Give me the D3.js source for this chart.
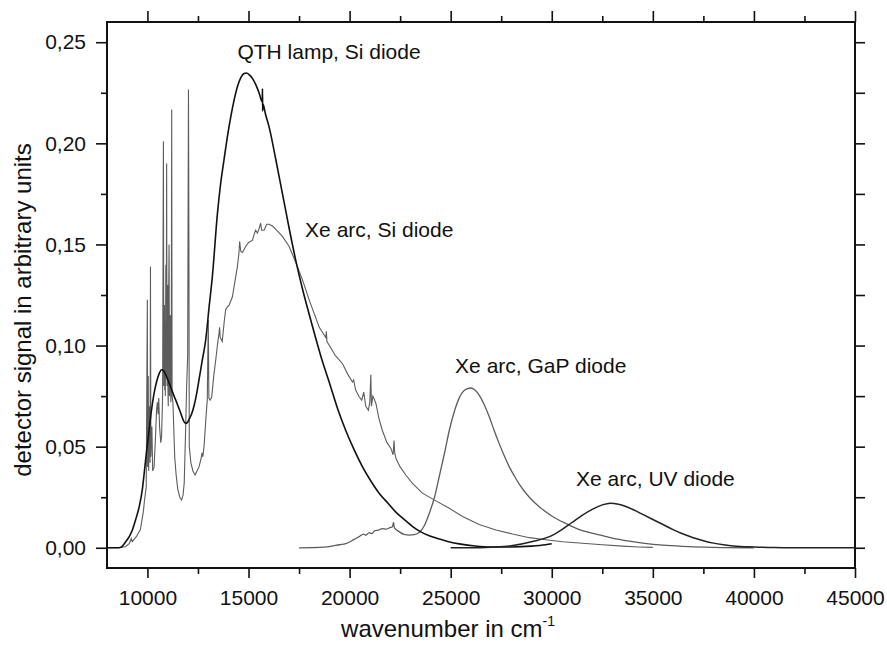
<!DOCTYPE html>
<html>
<head>
<meta charset="utf-8">
<script src="https://cdn.jsdelivr.net/npm/d3@7"></script>
<style>
  body { margin: 0; background: #fff; }
  svg text { font-family: "Liberation Sans", Arial, sans-serif; fill: #111; }
  .axis path, .axis line { stroke: #111; }
</style>
</head>
<body>
<div id="chart"></div>
<script>
// tick labels
const xTicks = [10000, 15000, 20000, 25000, 30000, 35000, 40000, 45000];
const yTicks = [0, 0.05, 0.10, 0.15, 0.20, 0.25];

// series: [wavenumber, signal]
const qthSi = [
  [8000, 0], [8500, 0], [8700, 0.0003], [8925, 0.003], [9100, 0.0055], [9255, 0.0088],
  [9420, 0.014], [9585, 0.020], [9750, 0.029], [9830, 0.036], [9950, 0.047], [10080, 0.058],
  [10200, 0.068], [10330, 0.0765], [10450, 0.082], [10575, 0.086], [10700, 0.088], [10800, 0.0875],
  [10970, 0.084], [11130, 0.080], [11300, 0.0755], [11480, 0.071], [11650, 0.0665], [11800, 0.0625],
  [11890, 0.0615], [11980, 0.062], [12060, 0.0635], [12180, 0.066], [12300, 0.070], [12430, 0.076],
  [12550, 0.083], [12700, 0.092], [12885, 0.103], [13050, 0.119], [13210, 0.134], [13460, 0.165],
  [13620, 0.180], [13790, 0.192], [13950, 0.203], [14120, 0.213], [14300, 0.222], [14450, 0.228],
  [14620, 0.2325], [14780, 0.2345], [14900, 0.2348], [15030, 0.234], [15200, 0.232], [15360, 0.229],
  [15520, 0.225], [15680, 0.2205], [15690, 0.227], [15700, 0.216], [15710, 0.2195], [15850, 0.214],
  [16020, 0.208], [16350, 0.192], [16680, 0.175], [17010, 0.158], [17340, 0.142], [17670, 0.128],
  [18000, 0.1155], [18300, 0.1045], [18600, 0.094], [18990, 0.082], [19400, 0.069], [19810, 0.058],
  [20200, 0.049], [20640, 0.040], [21050, 0.033], [21460, 0.027], [21900, 0.022], [22300, 0.0175],
  [22700, 0.014], [23120, 0.0105], [23500, 0.008], [23940, 0.006], [24400, 0.0045], [24900, 0.003],
  [25500, 0.0018], [26200, 0.0009], [27000, 0.0004], [28000, 0.0004], [29000, 0.0008], [29700, 0.0015],
  [30000, 0.002]
];

const xeSi = [
  [8000, 0], [8500, 0], [8900, 0.0005], [9100, 0.002], [9200, 0.0045], [9250, 0.003],
  [9450, 0.0055], [9650, 0.009], [9800, 0.018], [9850, 0.023], [9940, 0.030], [9995, 0.1226],
  [10010, 0.040], [10040, 0.085], [10060, 0.038], [10100, 0.070], [10130, 0.042], [10150, 0.139],
  [10170, 0.045], [10220, 0.060], [10260, 0.038], [10330, 0.040], [10400, 0.055], [10450, 0.068],
  [10490, 0.072], [10530, 0.066], [10560, 0.074], [10600, 0.060], [10660, 0.052], [10700, 0.055],
  [10750, 0.075], [10790, 0.201], [10810, 0.080], [10825, 0.105], [10840, 0.120], [10855, 0.078],
  [10870, 0.095], [10885, 0.075], [10910, 0.140], [10930, 0.085], [10950, 0.190], [10970, 0.080],
  [10985, 0.110], [11000, 0.130], [11015, 0.078], [11030, 0.070], [11050, 0.125], [11070, 0.150],
  [11090, 0.075], [11110, 0.100], [11130, 0.115], [11145, 0.080], [11160, 0.072], [11180, 0.095],
  [11200, 0.2167], [11220, 0.075], [11260, 0.072], [11300, 0.060],
  [11350, 0.045], [11420, 0.036], [11500, 0.029], [11600, 0.025], [11690, 0.0236], [11760, 0.026],
  [11820, 0.032], [11880, 0.055], [11940, 0.080], [11990, 0.095], [12030, 0.2266], [12050, 0.157],
  [12070, 0.050], [12150, 0.042], [12250, 0.038], [12360, 0.036], [12450, 0.038], [12550, 0.040],
  [12650, 0.044], [12700, 0.047], [12740, 0.045], [12800, 0.050], [12900, 0.065], [12960, 0.073],
  [13010, 0.1127], [13040, 0.074], [13100, 0.073], [13180, 0.0745], [13280, 0.085], [13380, 0.093],
  [13460, 0.100], [13540, 0.106], [13570, 0.109], [13600, 0.104], [13700, 0.102], [13800, 0.112],
  [13870, 0.1177], [13950, 0.119], [14040, 0.120], [14200, 0.124], [14350, 0.133], [14450, 0.139],
  [14530, 0.146], [14560, 0.1515], [14620, 0.1465], [14700, 0.146], [14860, 0.149], [15000, 0.151],
  [15190, 0.152], [15280, 0.155], [15350, 0.157], [15440, 0.1556], [15530, 0.158], [15600, 0.1605],
  [15650, 0.157], [15770, 0.157], [15900, 0.160], [16020, 0.160], [16200, 0.159], [16350, 0.1575],
  [16680, 0.154], [17010, 0.149], [17340, 0.141], [17670, 0.1325], [18000, 0.1226], [18500, 0.109],
  [18820, 0.104], [18850, 0.107], [18880, 0.102], [19000, 0.100], [19300, 0.095], [19650, 0.091],
  [19900, 0.086], [20140, 0.082], [20200, 0.083], [20300, 0.078], [20470, 0.0747], [20600, 0.073],
  [20700, 0.077], [20800, 0.070], [20930, 0.068], [21000, 0.072], [21050, 0.0855], [21080, 0.070],
  [21150, 0.075], [21200, 0.074], [21300, 0.0715], [21450, 0.064], [21620, 0.058], [21850, 0.052],
  [22050, 0.049], [22150, 0.046], [22200, 0.053], [22230, 0.047], [22300, 0.044], [22500, 0.040],
  [22780, 0.036], [23100, 0.032], [23600, 0.027], [24270, 0.0232], [24930, 0.0195], [25590, 0.0155],
  [26410, 0.0115], [27240, 0.0088], [28060, 0.0068], [28890, 0.005], [29710, 0.004], [30540, 0.003],
  [31360, 0.0024], [32500, 0.0015], [33500, 0.0008], [34300, 0.0004], [35000, 0.0002]
];

const xeGaP = [
  [17500, 0], [18500, 0.0002], [18990, 0.0006], [19500, 0.0015], [19810, 0.002], [20200, 0.004],
  [20470, 0.0055], [20700, 0.0068], [20800, 0.0062], [20970, 0.0075], [21100, 0.007], [21250, 0.0085],
  [21460, 0.0088], [21600, 0.0095], [21800, 0.0092], [22000, 0.010], [22120, 0.0104], [22170, 0.0125],
  [22220, 0.0098], [22450, 0.008], [22700, 0.0066], [22950, 0.0063], [23200, 0.0065], [23440, 0.0075],
  [23700, 0.011], [23940, 0.017], [24200, 0.025], [24430, 0.035], [24700, 0.047], [24930, 0.058],
  [25200, 0.068], [25420, 0.074], [25700, 0.078], [26000, 0.079], [26200, 0.078], [26410, 0.0755],
  [26650, 0.071], [26900, 0.065], [27150, 0.058], [27400, 0.0515], [27650, 0.0455], [27900, 0.040],
  [28150, 0.0355], [28390, 0.0315], [28890, 0.025], [29380, 0.0203], [30040, 0.0155], [30700, 0.012],
  [31360, 0.009], [32200, 0.0068], [33000, 0.0048], [33840, 0.0033], [34600, 0.0022], [35500, 0.0013],
  [36500, 0.0007], [37500, 0.0003], [38500, 0.0001], [40000, 0]
];

const xeUV = [
  [25000, 0], [26000, 0], [27000, 0.0003], [28000, 0.001], [29000, 0.003], [30000, 0.006],
  [30500, 0.009], [31000, 0.0125], [31500, 0.016], [32000, 0.019], [32500, 0.0212], [32900, 0.022],
  [33300, 0.0215], [33700, 0.0203], [34100, 0.0185], [34500, 0.0165], [35000, 0.014], [35500, 0.0115],
  [36000, 0.009], [36500, 0.0068], [37000, 0.005], [37500, 0.0035], [38000, 0.0023], [38500, 0.0015],
  [39000, 0.0009], [40000, 0.0004], [41000, 0.0001], [42000, 0], [45000, 0]
];

const labels = [
  { text: 'QTH lamp, Si diode', x: 14450, y: 0.2415 },
  { text: 'Xe arc, Si diode', x: 17800, y: 0.1535 },
  { text: 'Xe arc, GaP diode', x: 25220, y: 0.0865 },
  { text: 'Xe arc, UV diode', x: 31200, y: 0.0305 }
];

const W = 887, H = 646;
const x = d3.scaleLinear().domain([8000, 45000]).range([107, 855]);
const y = d3.scaleLinear().domain([-0.01, 0.26]).range([568, 22]);

const svg = d3.select('#chart').append('svg')
  .attr('width', W).attr('height', H);

const commaFmt = d3.formatLocale({ decimal: ',', thousands: '.', grouping: [3], currency: ['', ''] }).format('.2f');

const xMinor = d3.range(12500, 45000, 5000);
const yMinor = d3.range(0.025, 0.26, 0.05);

// bottom axis
svg.append('g').attr('class', 'axis')
  .attr('transform', `translate(0,${y.range()[0]})`)
  .call(d3.axisBottom(x).tickValues(xTicks).tickSize(10).tickSizeOuter(0).tickPadding(12).tickFormat(d3.format('d')))
  .call(g => g.selectAll('text').attr('font-size', 21))
  .call(g => g.select('.domain').remove());
svg.append('g').attr('class', 'axis')
  .attr('transform', `translate(0,${y.range()[0]})`)
  .call(d3.axisBottom(x).tickValues(xMinor).tickSize(6).tickFormat(''))
  .call(g => g.select('.domain').remove());

// top axis
svg.append('g').attr('class', 'axis')
  .attr('transform', `translate(0,${y.range()[1]})`)
  .call(d3.axisTop(x).tickValues(xTicks).tickSize(11).tickFormat(''))
  .call(g => g.select('.domain').remove());
svg.append('g').attr('class', 'axis')
  .attr('transform', `translate(0,${y.range()[1]})`)
  .call(d3.axisTop(x).tickValues(xMinor).tickSize(6).tickFormat(''))
  .call(g => g.select('.domain').remove());

// left axis
svg.append('g').attr('class', 'axis')
  .attr('transform', `translate(${x.range()[0]},0)`)
  .call(d3.axisLeft(y).tickValues(yTicks).tickSize(11).tickPadding(10).tickFormat(commaFmt))
  .call(g => g.selectAll('text').attr('font-size', 21))
  .call(g => g.select('.domain').remove());
svg.append('g').attr('class', 'axis')
  .attr('transform', `translate(${x.range()[0]},0)`)
  .call(d3.axisLeft(y).tickValues(yMinor).tickSize(6).tickFormat(''))
  .call(g => g.select('.domain').remove());

// right axis
svg.append('g').attr('class', 'axis')
  .attr('transform', `translate(${x.range()[1]},0)`)
  .call(d3.axisRight(y).tickValues(yTicks.concat(yMinor)).tickSize(10).tickFormat(''))
  .call(g => g.select('.domain').remove());

svg.selectAll('.axis line').attr('stroke-width', 1.6);

// frame
svg.append('rect')
  .attr('x', x.range()[0]).attr('y', y.range()[1])
  .attr('width', x.range()[1] - x.range()[0])
  .attr('height', y.range()[0] - y.range()[1])
  .attr('fill', 'none').attr('stroke', '#111').attr('stroke-width', 2);

// curves
const lineSharp = d3.line().x(d => x(d[0])).y(d => y(d[1]));
const lineSmooth = d3.line().x(d => x(d[0])).y(d => y(d[1])).curve(d3.curveMonotoneX);

svg.append('path').datum(xeSi)
  .attr('d', lineSharp).attr('fill', 'none')
  .attr('stroke', '#5c5c5c').attr('stroke-width', 1.1);
svg.append('path').datum(xeGaP)
  .attr('d', lineSmooth).attr('fill', 'none')
  .attr('stroke', '#5c5c5c').attr('stroke-width', 1.3);
svg.append('path').datum(qthSi)
  .attr('d', lineSmooth).attr('fill', 'none')
  .attr('stroke', '#111').attr('stroke-width', 1.6);
svg.append('path').datum(xeUV)
  .attr('d', lineSmooth).attr('fill', 'none')
  .attr('stroke', '#222').attr('stroke-width', 1.5);

// annotations
svg.selectAll('.lbl').data(labels).join('text')
  .attr('class', 'lbl')
  .attr('x', d => x(d.x)).attr('y', d => y(d.y))
  .attr('font-size', 21)
  .text(d => d.text);

// axis titles
svg.append('text')
  .attr('transform', `translate(31,310) rotate(-90)`)
  .attr('text-anchor', 'middle')
  .attr('font-size', 24)
  .text('detector signal in arbitrary units');

const xt = svg.append('text')
  .attr('x', 448).attr('y', 637)
  .attr('text-anchor', 'middle')
  .attr('font-size', 24);
xt.append('tspan').text('wavenumber in cm');
xt.append('tspan').attr('dy', -11).attr('font-size', 14).text('-1');
</script>
</body>
</html>
